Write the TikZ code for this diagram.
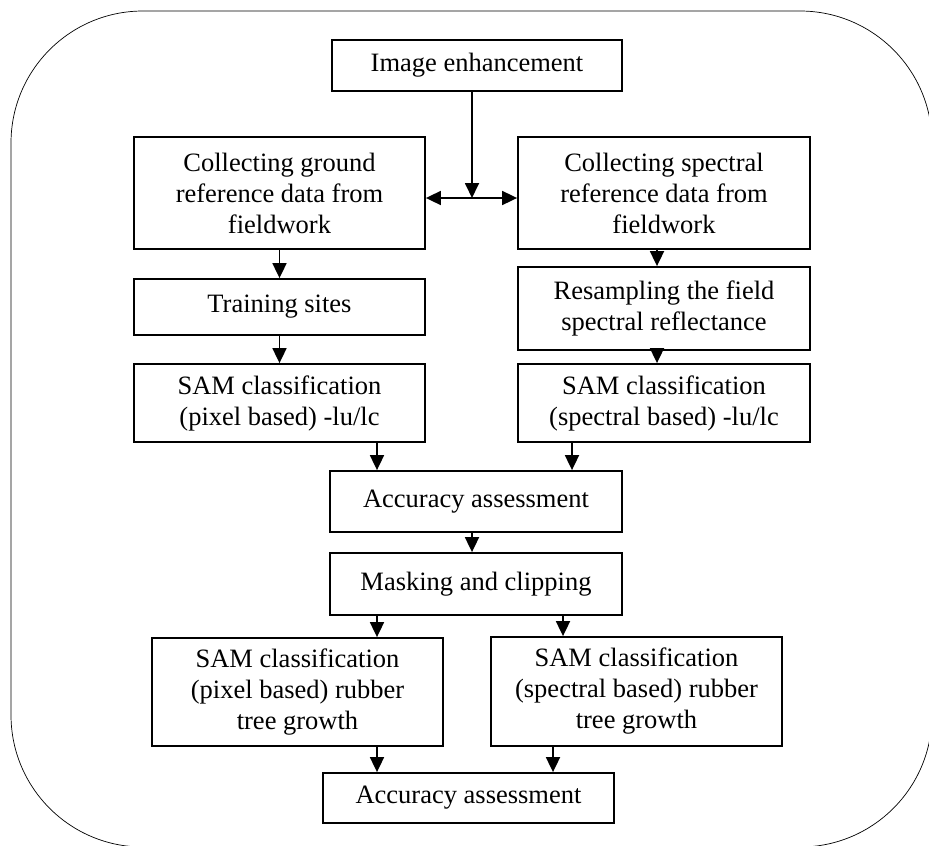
\documentclass[tikz,border=0pt]{standalone}
\usepackage{fontspec}
\setmainfont{Liberation Serif}
\usetikzlibrary{arrows.meta}
\begin{document}
\begin{tikzpicture}[x=1pt,y=-1pt]
  % Estilos de cajas y flechas
  \tikzset{
    box/.style={draw=black, line width=1.8pt, minimum width=291pt, align=center, inner sep=0pt, font=\fontsize{26.5}{31}\selectfont},
    arr/.style={-{Triangle[length=15pt,width=14pt]}, line width=1.8pt},
    darr/.style={{Triangle[length=15pt,width=14pt]}-{Triangle[length=15pt,width=14pt]}, line width=1.8pt}
  }

  % Marco redondeado
  \useasboundingbox (0,0) rectangle (929,846);
  \clip (0,0) rectangle (929,846);
  \draw[line width=0.7pt, rounded corners=132pt] (11,11) rectangle (932,847);

  % Cajas superiores
  \node[box, minimum width=290pt, minimum height=51pt] (enh) at (477,65.5) {Image enhancement};
  \node[box, minimum height=112pt] (ground) at (279.5,193) {Collecting ground\\reference data from\\fieldwork};
  \node[box, minimum width=292pt, minimum height=112pt] (spec) at (664,193) {Collecting spectral\\reference data from\\fieldwork};

  % Columna izquierda y derecha
  \node[box, minimum height=56pt] (train) at (279.5,307) {Training sites};
  \node[box, minimum width=292pt, minimum height=83pt] (resamp) at (664,308.5) {Resampling the field\\spectral reflectance};
  \node[box, minimum height=78pt] (samL) at (279.5,403) {SAM classification\\(pixel based) -lu/lc};
  \node[box, minimum width=292pt, minimum height=78pt] (samR) at (664,403) {SAM classification\\(spectral based) -lu/lc};

  % Cajas centrales
  \node[box, minimum width=292pt, minimum height=61pt] (acc1) at (476,501.5) {Accuracy assessment};
  \node[box, minimum width=292pt, minimum height=62pt] (mask) at (476,584) {Masking and clipping};

  % Cajas inferiores
  \node[box, minimum height=108pt] (rubL) at (297.5,692) {SAM classification\\(pixel based) rubber\\tree growth};
  \node[box, minimum height=109pt] (rubR) at (636.5,691.5) {SAM classification\\(spectral based) rubber\\tree growth};
  \node[box, minimum height=50pt] (acc2) at (468.5,798) {Accuracy assessment};

  % Posiciones de las flechas
  \coordinate (junc) at (472,198);
  \coordinate (xr) at (657,0);
  \coordinate (c1) at (377,0);
  \coordinate (c2) at (572,0);
  \coordinate (c4) at (563,0);
  \coordinate (c5) at (553,0);

  % Flechas
  \draw[arr] (enh.south -| junc) -- (junc);
  \draw[darr] (ground.east |- junc) -- (spec.west |- junc);
  \draw[arr] (ground.south) -- (train.north);
  \draw[arr] (train.south) -- (samL.north);
  \draw[arr] (spec.south -| xr) -- (resamp.north -| xr);
  \draw[arr] (resamp.south -| xr) -- (samR.north -| xr);
  \draw[arr] (samL.south -| c1) -- (acc1.north -| c1);
  \draw[arr] (samR.south -| c2) -- (acc1.north -| c2);
  \draw[arr] (acc1.south -| junc) -- (mask.north -| junc);
  \draw[arr] (mask.south -| c1) -- (rubL.north -| c1);
  \draw[arr] (mask.south -| c4) -- (rubR.north -| c4);
  \draw[arr] (rubL.south -| c1) -- (acc2.north -| c1);
  \draw[arr] (rubR.south -| c5) -- (acc2.north -| c5);
\end{tikzpicture}
\end{document}
